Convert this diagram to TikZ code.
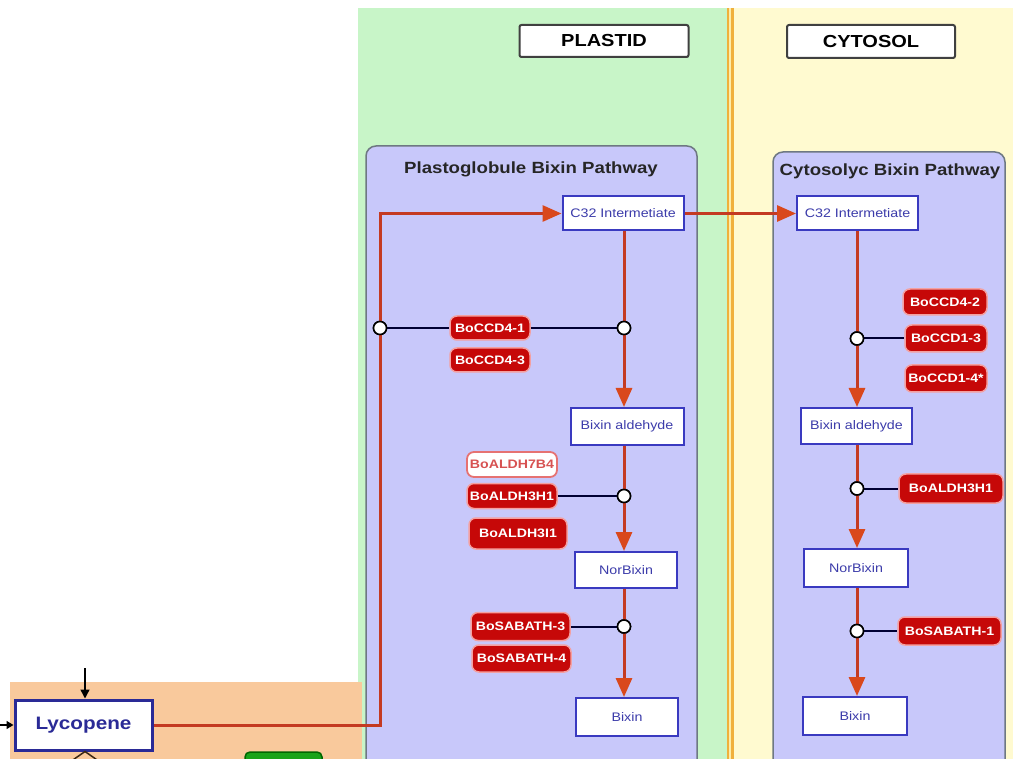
\documentclass[tikz,border=0pt]{standalone}
\usepackage{fontspec}
\setmainfont{Liberation Sans}
\newfontfamily\wf[FakeStretch=1.15]{Liberation Sans}
\usetikzlibrary{arrows.meta,calc}
\definecolor{bggreen}{RGB}{200,245,200}
\definecolor{bgyellow}{RGB}{255,250,208}
\definecolor{lav}{RGB}{200,200,250}
\definecolor{panelline}{RGB}{110,120,130}
\definecolor{peach}{RGB}{249,201,156}
\definecolor{redline}{RGB}{196,58,34}
\definecolor{redtip}{RGB}{217,72,28}
\definecolor{enzfill}{RGB}{198,8,8}
\definecolor{enzline}{RGB}{244,160,160}
\definecolor{boxblue}{RGB}{58,58,192}
\definecolor{txtblue}{RGB}{60,60,170}
\definecolor{lycblue}{RGB}{42,42,150}
\definecolor{divorange}{RGB}{240,176,60}
\definecolor{divlight}{RGB}{252,236,170}
\tikzset{
  panel/.style={fill=lav,draw=panelline,line width=1.5pt,rounded corners=10pt},
  title/.style={font=\wf\fontsize{16.2}{18}\selectfont\bfseries,text=black!85,inner sep=0pt},
  comp/.style={draw=black!75,fill=white,line width=2pt,rounded corners=2pt,minimum width=169pt,minimum height=32pt,inner sep=0pt,font=\wf\fontsize{17.4}{19}\selectfont\bfseries},
  met/.style={draw=boxblue,fill=white,line width=2pt,inner sep=0pt,text=txtblue,font=\wf\fontsize{12.4}{14}\selectfont},
  enz/.style={fill=enzfill,draw=enzline,line width=1.5pt,rounded corners=7pt,inner sep=0pt,text=white,font=\wf\fontsize{12.3}{14}\selectfont\bfseries},
  enzw/.style={fill=white,draw=enzline!70!enzfill,line width=1.8pt,rounded corners=7pt,inner sep=0pt,text=enzfill!70,font=\wf\fontsize{12.3}{14}\selectfont\bfseries},
  circ/.style={circle,draw=black,fill=white,line width=1.6pt,minimum size=13pt,inner sep=0pt},
  flow/.style={draw=redline,line width=3pt,-{Triangle[length=19pt,width=16pt,fill=redtip,color=redtip]}},
  link/.style={draw=black!80!blue,line width=2pt},
}
\begin{document}
\begin{tikzpicture}[x=1pt,y=-1pt]
\useasboundingbox (0,0) rectangle (1013,759);
\fill[white] (0,0) rectangle (1013,759);
% compartments
\fill[bggreen] (358,8) rectangle (728,759);
\fill[bgyellow] (732,8) rectangle (1013,759);
\draw[divorange,line width=7pt] (730,8) -- (730,759);
\draw[divlight,line width=2.5pt] (730,8) -- (730,759);
\fill[peach] (10,682) rectangle (362,759);
% panels
\draw[panel] (366,146) rectangle (697,780);
\draw[panel] (773,152) rectangle (1005,780);
% compartment labels
\node[comp] (plastid) at (604,41) {PLASTID};
\node[comp,minimum width=168pt,minimum height=33pt] (cytosol) at (871,41.5) {CYTOSOL};
\node[title] (ptitle) at (531,169) {Plastoglobule Bixin Pathway};
\node[title] (ctitle) at (890,171) {Cytosolyc Bixin Pathway};
% metabolites
\node[met,minimum width=121pt,minimum height=34pt] (lC32) at (623,213.5) {C32 Intermetiate};
\node[met,minimum width=113pt,minimum height=37pt] (lAld) at (627,426.5) {Bixin aldehyde};
\node[met,minimum width=102pt,minimum height=36pt] (lNor) at (626,570) {NorBixin};
\node[met,minimum width=102pt,minimum height=38pt] (lBix) at (627,717) {Bixin};
\node[met,minimum width=121pt,minimum height=34pt] (rC32) at (857.5,213.5) {C32 Intermetiate};
\node[met,minimum width=111pt,minimum height=36pt] (rAld) at (856.5,426) {Bixin aldehyde};
\node[met,minimum width=104pt,minimum height=38pt] (rNor) at (856,568) {NorBixin};
\node[met,minimum width=104pt,minimum height=38pt] (rBix) at (855,716) {Bixin};
% lycopene
\node[draw=lycblue,fill=white,line width=3pt,minimum width=137pt,minimum height=50pt,inner sep=0pt,text=lycblue,font=\wf\fontsize{18}{20}\selectfont\bfseries] (lyc) at (83.5,725) {Lycopene};
\coordinate (lycin1) at (85,668);
\coordinate (lycin2) at (0,725);
\coordinate (lycout1) at (70,762);
\coordinate (lycout2) at (100,762);
\draw[black,line width=1.5pt,-{Triangle[length=9pt,width=9pt]}] (lycin1) -- (lyc.north -| lycin1);
\draw[black,line width=1.5pt,-{Triangle[length=7pt,width=8pt]}] (lycin2) -- (lyc.west);
\draw[black!70!brown,line width=1.5pt] (lycout1) -- (lyc.south -| lycin1) -- (lycout2);
\draw[fill=green!60!black!90,draw=green!40!black,line width=1.5pt,rounded corners=5pt] (245,752) rectangle (322,775);
% left side junction
\coordinate (bend1) at (380,725);
\coordinate (bend2) at (380,213.5);
% enzymes
\node[enz,minimum width=80pt,minimum height=24pt] (eCCD41) at (490,328) {BoCCD4-1};
\node[enz,minimum width=80pt,minimum height=24pt] (eCCD43) at (490,360) {BoCCD4-3};
\node[enzw,minimum width=90pt,minimum height=25pt] (eALDH7) at (512,464.5) {BoALDH7B4};
\node[enz,minimum width=90pt,minimum height=25pt] (eALDH3H) at (512,496) {BoALDH3H1};
\node[enz,minimum width=98pt,minimum height=31pt] (eALDH3I) at (518,533.5) {BoALDH3I1};
\node[enz,minimum width=99pt,minimum height=28pt] (eSAB3) at (520.5,626.5) {BoSABATH-3};
\node[enz,minimum width=99pt,minimum height=27pt] (eSAB4) at (521.5,658.5) {BoSABATH-4};
\node[enz,minimum width=84pt,minimum height=26pt] (eCCD42) at (945,302) {BoCCD4-2};
\node[enz,minimum width=82pt,minimum height=27pt] (eCCD13) at (946,338.5) {BoCCD1-3};
\node[enz,minimum width=82pt,minimum height=27pt] (eCCD14) at (946,378.5) {BoCCD1-4*};
\node[enz,minimum width=104pt,minimum height=29pt] (eRALDH) at (951,488.5) {BoALDH3H1};
\node[enz,minimum width=103pt,minimum height=28pt] (eSAB1) at (949.5,631) {BoSABATH-1};
% enzyme link circles
\node[circ] (cL0) at (380,328) {};
\node[circ] (cL1) at (624,328) {};
\node[circ] (cL2) at (624,496) {};
\node[circ] (cL3) at (624,626.5) {};
\node[circ] (cR1) at (857,338.5) {};
\node[circ] (cR2) at (857,488.5) {};
\node[circ] (cR3) at (857,631) {};
% main flow
\draw[flow] (lyc.east) -- (bend1) -- (bend2) -- (lC32.west);
\draw[flow] (lC32.east) -- (rC32.west);
\draw[flow] (lC32.south -| cL1) -- (lAld.north -| cL1);
\draw[flow] (lAld.south -| cL1) -- (lNor.north -| cL1);
\draw[flow] (lNor.south -| cL1) -- (lBix.north -| cL1);
\draw[flow] (rC32.south -| cR1) -- (rAld.north -| cR1);
\draw[flow] (rAld.south -| cR1) -- (rNor.north -| cR1);
\draw[flow] (rNor.south -| cR1) -- (rBix.north -| cR1);
% links
\draw[link] (cL0) -- (eCCD41.west);
\draw[link] (eCCD41.east) -- (cL1);
\draw[link] (eALDH3H.east) -- (cL2);
\draw[link] (eSAB3.east) -- (cL3);
\draw[link] (cR1) -- (eCCD13.west);
\draw[link] (cR2) -- (eRALDH.west);
\draw[link] (cR3) -- (eSAB1.west);
% circles on top of links
\foreach \c in {cL0,cL1,cL2,cL3,cR1,cR2,cR3} {\node[circ] at (\c) {};}
\end{tikzpicture}
\end{document}
